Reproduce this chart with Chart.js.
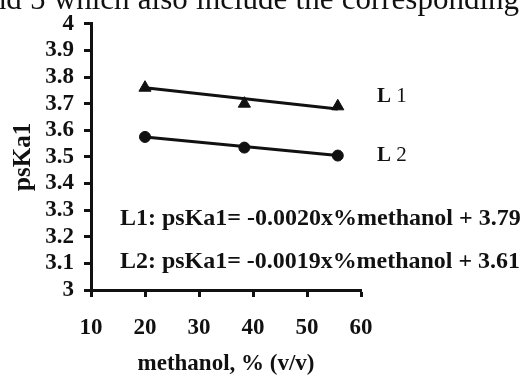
<!DOCTYPE html>
<html>
<head>
<meta charset="utf-8">
<script src="https://cdn.jsdelivr.net/npm/chart.js@4/dist/chart.umd.min.js"></script>
<style>
  html, body { margin: 0; padding: 0; background: #fff; }
  #wrap { width: 524px; height: 378px; position: relative; }
</style>
</head>
<body>
<div id="wrap"><canvas id="psChart" width="524" height="378"></canvas></div>
<script>
// values
const methanolPct = [20, 38.4, 55.7];
const l1Points = [3.76, 3.70, 3.69];
const l2Points = [3.575, 3.535, 3.505];
const fitEnds = [20, 55.7];
const l1Fit = [3.76, 3.68];
const l2Fit = [3.575, 3.505];

const headerText = 'and 5 which also include the corresponding';
const eqL1 = 'L1: psKa1= -0.0020x%methanol + 3.79';
const eqL2 = 'L2: psKa1= -0.0019x%methanol + 3.61';

const serif = '"Liberation Serif", "DejaVu Serif", serif';

const toXY = (xs, ys) => xs.map((x, i) => ({ x, y: ys[i] }));

// text that sits on the page around the plot
const notes = {
  id: 'notes',
  afterDraw(c) {
    const ctx = c.ctx;
    ctx.save();
    ctx.fillStyle = '#111';
    ctx.textBaseline = 'alphabetic';

    // cut-off line of body text at the top, spread like a justified line
    ctx.font = '31px ' + serif;
    const words = headerText.split(' ');
    const left = -23, right = 519;
    const widths = words.map(w => ctx.measureText(w).width);
    const gap = (right - left - widths.reduce((a, b) => a + b, 0)) / (words.length - 1);
    let x = left;
    words.forEach((w, i) => {
      ctx.fillText(w, x, 9);
      x += widths[i] + gap;
    });

    // series labels
    const lab = (name, num, y) => {
      ctx.font = 'bold 21px ' + serif;
      ctx.fillText(name, 377, y);
      const w = ctx.measureText(name + ' ').width;
      ctx.font = '21px ' + serif;
      ctx.fillText(num, 377 + w, y);
    };
    lab('L', '1', 102);
    lab('L', '2', 161);

    // regression equations
    ctx.font = 'bold 24px ' + serif;
    ctx.fillText(eqL1, 120, 225, 402);
    ctx.fillText(eqL2, 120, 268, 400);
    ctx.restore();
  }
};

new Chart(document.getElementById('psChart'), {
  type: 'scatter',
  data: {
    datasets: [
      {
        label: 'L 1 fit',
        data: toXY(fitEnds, l1Fit),
        showLine: true,
        borderColor: '#111',
        borderWidth: 3,
        pointRadius: 0
      },
      {
        label: 'L 2 fit',
        data: toXY(fitEnds, l2Fit),
        showLine: true,
        borderColor: '#111',
        borderWidth: 3,
        pointRadius: 0
      },
      {
        label: 'L 1',
        data: toXY(methanolPct, l1Points),
        pointStyle: 'triangle',
        pointRadius: 7,
        backgroundColor: '#111',
        borderColor: '#111',
        borderWidth: 1
      },
      {
        label: 'L 2',
        data: toXY(methanolPct, l2Points),
        pointStyle: 'circle',
        pointRadius: 5.5,
        backgroundColor: '#111',
        borderColor: '#111',
        borderWidth: 1
      }
    ]
  },
  options: {
    responsive: false,
    animation: false,
    layout: { padding: { left: 0, top: 23, right: 163, bottom: 0 } },
    plugins: {
      legend: { display: false },
      tooltip: { enabled: false }
    },
    scales: {
      x: {
        type: 'linear',
        min: 10,
        max: 60,
        ticks: {
          stepSize: 10,
          autoSkip: false,
          maxRotation: 0,
          color: '#111',
          padding: 17,
          font: { family: serif, size: 23, weight: 'bold' }
        },
        grid: {
          drawOnChartArea: false,
          drawTicks: true,
          tickLength: 7,
          tickWidth: 3,
          tickColor: '#111'
        },
        border: { color: '#111', width: 3 },
        title: {
          display: true,
          text: 'methanol, % (v/v)',
          color: '#111',
          padding: { top: 0, bottom: 0 },
          font: { family: serif, size: 23, weight: 'bold' }
        },
        afterFit: (s) => { s.height = 88; }
      },
      y: {
        min: 3,
        max: 4,
        ticks: {
          stepSize: 0.1,
          autoSkip: false,
          color: '#111',
          padding: 10,
          font: { family: serif, size: 23, weight: 'bold' },
          callback: (v) => Math.round(v * 10) / 10
        },
        grid: {
          drawOnChartArea: false,
          drawTicks: true,
          tickLength: 7,
          tickWidth: 3,
          tickColor: '#111'
        },
        border: { color: '#111', width: 3 },
        title: {
          display: true,
          text: 'psKa1',
          color: '#111',
          padding: { top: 9, bottom: 0 },
          font: { family: serif, size: 25, weight: 'bold' }
        },
        afterFit: (s) => { s.width = 91; }
      }
    }
  },
  plugins: [notes]
});
</script>
</body>
</html>
